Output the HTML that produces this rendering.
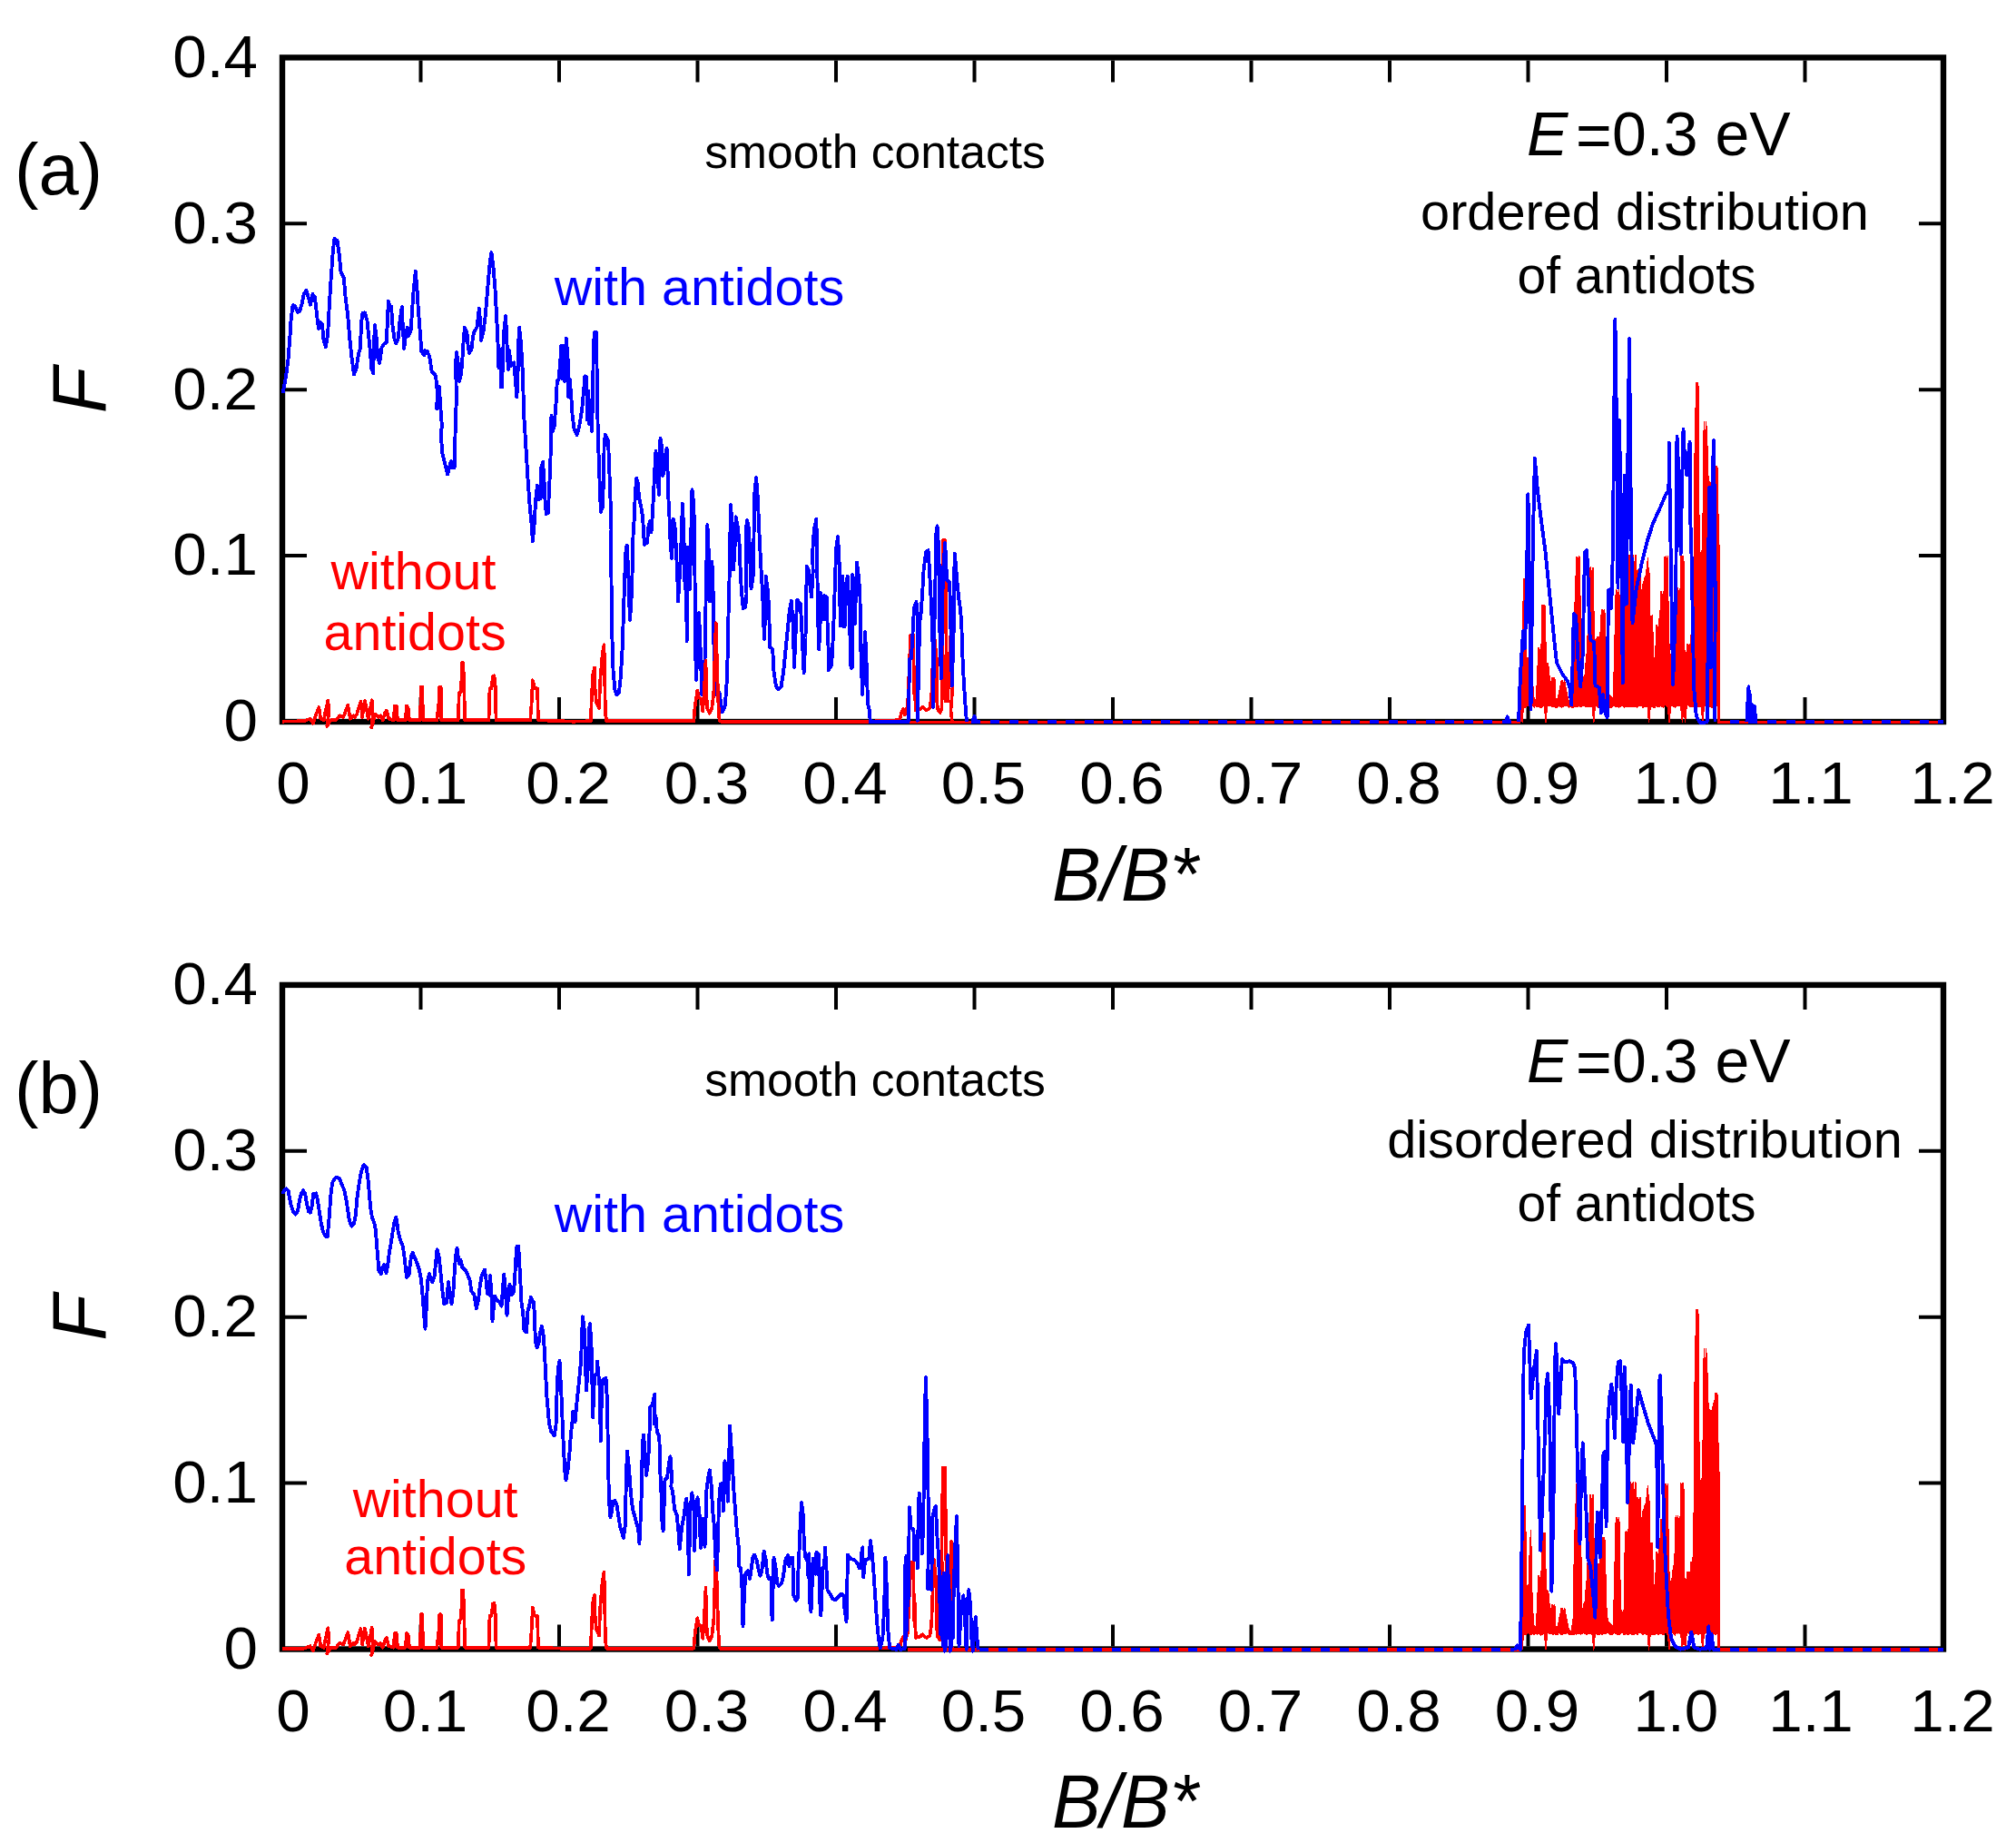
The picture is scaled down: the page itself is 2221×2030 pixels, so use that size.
<!DOCTYPE html>
<html lang="en"><head><meta charset="utf-8"><title>F vs B/B*</title>
<style>html,body{margin:0;padding:0;background:#fff}svg{display:block}text{font-family:'Liberation Sans', sans-serif}</style>
</head><body>
<svg width="2221" height="2030" viewBox="0 0 2221 2030">
<rect width="2221" height="2030" fill="#fff"/>
<g transform="translate(0,0.0)">
<rect x="311.0" y="63.4" width="1830.0" height="731.6" fill="none" stroke="#000" stroke-width="6.4"/>
<path d="M463.5 66.4v24 M463.5 792.0v-24 M616.0 66.4v24 M616.0 792.0v-24 M768.5 66.4v24 M768.5 792.0v-24 M921.0 66.4v24 M921.0 792.0v-24 M1073.5 66.4v24 M1073.5 792.0v-24 M1226.0 66.4v24 M1226.0 792.0v-24 M1378.5 66.4v24 M1378.5 792.0v-24 M1531.0 66.4v24 M1531.0 792.0v-24 M1683.5 66.4v24 M1683.5 792.0v-24 M1836.0 66.4v24 M1836.0 792.0v-24 M1988.5 66.4v24 M1988.5 792.0v-24 M314.0 612.1h24 M2138.0 612.1h-24 M314.0 429.2h24 M2138.0 429.2h-24 M314.0 246.3h24 M2138.0 246.3h-24" stroke="#000" stroke-width="4" fill="none"/>
<polyline points="1000.0,795.5 1675.0,795.5" fill="none" stroke="#f00" stroke-width="3.7" stroke-linejoin="round" shape-rendering="crispEdges"/>
<polyline points="950.0,795.0 991.2,793.1 993.1,785.0 995.0,781.2 996.9,787.5 998.8,781.2 1000.0,777.5 1001.9,732.5 1003.1,699.4 1006.0,699.4 1006.9,745.0 1007.5,770.0 1008.1,745.0 1008.8,782.5 1013.8,781.2 1016.2,778.8 1020.6,782.5 1024.4,780.0 1026.2,767.5 1028.8,696.2 1030.0,707.5 1031.9,726.2 1031.9,770.0 1033.1,781.2 1035.6,785.0 1037.5,780.0 1038.1,745.0 1037.5,681.2 1038.8,595.0 1041.2,595.0 1041.9,663.8 1042.5,707.5 1041.9,772.5 1044.4,772.5 1044.4,720.0 1045.6,757.5 1048.1,676.2 1049.4,686.2 1049.4,757.5 1047.5,782.5 1048.8,793.8 1051.2,795.6 1075.0,795.6" fill="none" stroke="#f00" stroke-width="3.7" stroke-linejoin="round" shape-rendering="crispEdges"/>
<polygon points="1677.0,726.5 1677.5,682.5 1678.3,657.7 1678.8,637.5 1679.6,637.5 1680.6,637.5 1680.9,669.9 1681.2,707.5 1682.2,732.8 1683.1,757.5 1683.5,747.1 1684.8,701.7 1685.0,695.0 1686.1,672.8 1686.5,663.8 1687.4,708.7 1688.1,745.0 1688.7,754.0 1690.0,770.0 1690.0,770.0 1691.3,770.3 1692.5,770.0 1692.6,767.8 1693.9,738.7 1695.0,713.8 1695.2,713.8 1696.5,717.0 1697.8,713.8 1698.1,713.8 1698.8,666.9 1699.1,667.3 1700.4,666.9 1701.7,671.7 1701.9,666.9 1702.5,697.5 1703.0,710.5 1703.8,730.0 1704.3,730.7 1705.6,731.2 1705.6,731.2 1706.9,745.0 1706.9,745.4 1708.2,752.1 1708.8,755.0 1709.4,746.2 1709.5,747.6 1710.8,746.2 1712.1,748.8 1712.8,746.2 1713.4,761.7 1713.8,770.0 1714.7,770.1 1716.0,770.0 1716.2,770.0 1717.3,764.7 1718.6,757.5 1719.9,752.2 1720.0,750.0 1721.2,750.0 1722.5,752.6 1723.8,750.0 1723.8,750.3 1725.1,758.3 1726.4,764.1 1727.5,770.0 1727.7,770.8 1729.0,774.2 1730.3,777.8 1730.6,778.8 1731.6,772.1 1732.9,763.3 1733.8,757.5 1734.2,696.3 1734.4,672.5 1735.5,659.5 1736.2,632.5 1736.8,615.5 1736.9,613.1 1738.1,617.9 1739.4,613.1 1740.0,613.1 1740.6,645.0 1740.7,649.9 1741.9,695.0 1742.0,707.5 1742.5,757.5 1743.3,753.8 1744.6,747.0 1745.0,745.0 1745.9,744.2 1746.2,742.5 1747.2,729.2 1748.5,716.4 1748.8,707.5 1749.8,686.5 1750.6,670.0 1751.1,657.9 1752.1,625.0 1752.4,625.0 1753.7,633.8 1755.0,625.0 1755.0,625.0 1755.6,645.0 1756.2,707.5 1756.3,711.8 1757.6,704.8 1758.1,703.8 1758.9,705.5 1760.2,701.2 1761.5,703.8 1762.8,697.9 1763.1,697.5 1764.1,678.1 1764.4,671.9 1765.4,671.9 1766.7,672.5 1767.8,671.9 1768.0,680.8 1768.8,707.5 1769.3,741.3 1769.4,745.0 1770.6,757.2 1771.2,763.8 1771.9,765.3 1773.2,765.7 1774.5,767.4 1775.8,768.3 1777.1,769.8 1777.5,770.0 1778.4,729.5 1779.7,677.2 1780.0,657.5 1780.6,650.0 1781.0,650.0 1782.3,655.8 1783.6,650.0 1783.8,650.0 1784.4,695.0 1784.9,720.9 1785.6,752.5 1786.2,752.5 1787.5,754.4 1788.8,752.5 1789.4,752.5 1790.0,688.8 1790.1,693.2 1791.2,665.0 1791.4,664.9 1792.7,666.6 1794.0,662.8 1794.4,662.5 1795.0,611.2 1795.3,620.8 1796.6,611.2 1797.9,620.0 1799.2,611.2 1800.5,625.8 1801.8,611.2 1801.9,611.2 1802.9,645.0 1803.1,651.5 1804.0,628.1 1804.4,628.1 1805.7,632.4 1806.9,628.1 1807.0,632.5 1807.5,650.0 1808.3,660.3 1809.6,643.7 1810.9,641.4 1812.2,635.9 1812.5,635.0 1813.5,634.8 1814.8,620.3 1815.6,615.0 1816.1,633.0 1816.9,631.2 1817.4,670.1 1817.5,677.5 1818.7,679.2 1820.0,678.0 1820.6,678.1 1821.2,717.5 1821.3,721.0 1822.5,732.5 1822.6,731.2 1823.9,714.1 1824.4,707.5 1825.0,688.1 1825.2,688.1 1826.5,694.1 1827.5,688.1 1827.8,684.0 1829.1,674.7 1829.4,662.5 1830.0,651.9 1830.4,651.9 1831.7,659.0 1832.5,651.9 1833.0,668.4 1833.1,672.5 1834.0,613.1 1834.3,627.5 1835.6,613.1 1836.9,618.3 1837.5,613.1 1838.1,695.0 1838.2,696.2 1839.5,722.0 1840.0,726.2 1840.8,721.3 1842.1,716.9 1843.4,705.0 1844.7,701.5 1845.0,695.0 1846.0,657.5 1846.2,648.1 1847.3,654.0 1848.6,648.1 1849.9,659.0 1851.2,648.1 1851.2,648.1 1851.9,612.5 1852.5,628.0 1853.8,612.5 1854.4,612.5 1855.0,620.0 1855.1,642.1 1855.6,716.2 1856.4,717.0 1857.7,722.2 1858.1,718.8 1858.8,710.0 1859.0,710.0 1860.3,710.4 1861.6,710.0 1862.5,710.0 1862.9,708.0 1863.1,698.8 1864.2,698.8 1865.0,698.8 1865.5,682.8 1866.2,642.5 1866.8,578.7 1866.9,570.0 1867.3,466.7 1868.1,466.1 1868.3,421.2 1869.4,421.2 1870.7,450.4 1870.8,421.2 1871.5,463.3 1872.0,606.7 1872.0,606.7 1873.3,611.5 1874.6,606.7 1875.8,606.7 1875.9,604.4 1876.5,515.0 1877.2,472.3 1877.3,464.2 1878.5,485.1 1879.7,464.2 1879.8,466.9 1880.8,488.3 1881.1,500.2 1881.7,523.3 1882.4,525.2 1883.7,539.9 1885.0,531.7 1885.0,531.7 1886.3,532.6 1887.6,525.2 1888.3,523.3 1888.9,522.9 1890.0,513.3 1890.2,513.3 1891.5,514.9 1891.7,513.3 1892.8,523.0 1892.8,523.3 1893.2,795.0 1893.4,778.7 1891.8,777.1 1890.2,779.0 1888.6,777.7 1887.0,779.1 1885.4,779.0 1883.8,777.6 1882.2,779.1 1880.6,776.9 1879.0,777.1 1877.4,777.9 1875.8,795.5 1874.2,777.7 1872.6,778.1 1871.0,778.5 1869.4,778.3 1867.8,776.6 1866.2,778.7 1864.6,778.8 1863.0,777.6 1861.4,778.3 1859.8,776.6 1858.2,776.9 1856.6,795.5 1855.0,776.9 1853.4,795.5 1851.8,779.0 1850.2,776.8 1848.6,777.4 1847.0,776.8 1845.4,779.4 1843.8,777.9 1842.2,776.7 1840.6,777.2 1839.0,795.5 1837.4,779.3 1835.8,776.8 1834.2,776.5 1832.6,779.3 1831.0,778.5 1829.4,777.5 1827.8,778.7 1826.2,778.7 1824.6,777.1 1823.0,779.4 1821.4,778.8 1819.8,778.6 1818.2,778.0 1816.6,795.5 1815.0,777.2 1813.4,778.5 1811.8,777.7 1810.2,779.4 1808.6,777.5 1807.0,777.1 1805.4,777.0 1803.8,779.1 1802.2,777.8 1800.6,778.8 1799.0,778.4 1797.4,778.7 1795.8,777.8 1794.2,778.8 1792.6,778.8 1791.0,777.6 1789.4,779.2 1787.8,776.9 1786.2,776.9 1784.6,778.8 1783.0,778.9 1781.4,778.4 1779.8,778.0 1778.2,776.4 1776.6,778.3 1775.0,779.2 1773.4,779.0 1771.8,777.0 1770.2,777.3 1768.6,778.2 1767.0,777.7 1765.4,779.1 1763.8,777.8 1762.2,779.1 1760.6,779.2 1759.0,778.0 1757.4,776.5 1755.8,795.5 1754.2,778.8 1752.6,777.8 1751.0,778.1 1749.4,778.0 1747.8,778.8 1746.2,778.1 1744.6,777.2 1743.0,777.9 1741.4,778.7 1739.8,777.7 1738.2,777.9 1736.6,778.5 1735.0,778.0 1733.4,779.2 1731.8,779.0 1730.2,777.2 1728.6,779.2 1727.0,776.8 1725.4,777.7 1723.8,777.1 1722.2,778.4 1720.6,779.1 1719.0,778.5 1717.4,776.8 1715.8,779.3 1714.2,779.3 1712.6,777.9 1711.0,778.9 1709.4,777.7 1707.8,777.4 1706.2,777.4 1704.6,776.5 1703.0,795.5 1701.4,777.4 1699.8,777.9 1698.2,779.4 1696.6,779.3 1695.0,777.2 1693.4,778.7 1691.8,776.8 1690.2,779.1 1688.6,777.2 1687.0,779.2 1685.4,778.5 1683.8,776.6 1682.2,777.7 1680.6,779.2 1679.0,778.8 1677.4,779.0" fill="#f00" stroke="#f00" stroke-width="1.3" stroke-linejoin="round" shape-rendering="crispEdges"/>
<polyline points="1676.5,795.5 1678.0,700.0" fill="none" stroke="#f00" stroke-width="3.7" stroke-linejoin="round" shape-rendering="crispEdges"/>
<polyline points="1893.0,600.0 1893.4,795.5 2141.0,795.5" fill="none" stroke="#f00" stroke-width="3.7" stroke-linejoin="round" shape-rendering="crispEdges"/>
<polyline points="1070.0,795.0 1673.0,795.0" fill="none" stroke="#00f" stroke-width="4.0" stroke-linejoin="round" shape-rendering="crispEdges" stroke-dasharray="10 10.89"/>
<polyline points="1905.6,795.0 2141.0,795.0" fill="none" stroke="#00f" stroke-width="4.0" stroke-linejoin="round" shape-rendering="crispEdges" stroke-dasharray="10 10.89"/>
<polyline points="311.5,433.1 315.0,415.0 317.5,396.2 319.4,371.2 320.6,352.5 322.5,336.2 325.0,336.9 327.8,343.8 330.0,343.1 332.8,333.8 335.0,323.1 337.5,320.0 339.4,326.2 341.9,335.6 344.4,324.0 346.9,327.5 348.8,343.8 350.0,355.0 351.0,361.9 353.1,355.0 355.0,356.9 356.2,372.5 358.8,382.5 361.2,367.5 362.5,342.5 364.0,316.2 365.6,293.8 366.9,275.0 368.5,263.1 371.5,265.0 373.8,281.2 375.6,300.0 378.8,306.2 380.6,327.5 383.1,346.2 385.0,370.0 387.5,393.8 390.0,412.5 392.5,406.2 395.0,390.0 396.9,383.8 398.1,355.0 399.4,345.0 401.9,344.4 404.4,352.5 406.2,370.0 408.1,390.0 409.4,406.2 411.2,411.2 411.9,383.8 412.9,358.1 415.0,375.0 416.2,393.8 418.1,400.0 420.6,382.5 423.1,378.8 425.6,377.5 426.9,355.0 427.8,331.9 430.0,338.8 431.0,337.5 432.5,358.8 434.4,372.5 436.2,378.1 438.8,372.5 440.6,352.5 442.8,338.1 443.8,360.0 445.2,383.8 446.9,370.0 448.8,360.6 450.0,370.0 452.5,365.0 453.8,346.2 455.6,320.0 457.8,298.8 459.4,317.5 460.6,337.5 462.5,362.5 464.4,387.5 467.5,391.2 468.1,386.2 470.6,386.9 473.1,392.5 475.6,408.8 480.0,413.8 481.9,432.5 481.2,450.0 482.8,427.5 483.8,426.2 485.6,452.5 486.9,470.0 485.6,477.5 487.5,500.0 490.0,510.0 493.1,522.5 495.0,515.0 496.9,508.1 498.5,515.0 500.6,515.0 501.2,490.0 501.9,465.0 502.8,440.0 502.2,401.2 502.8,388.1 504.4,397.5 506.2,420.0 508.1,411.2 509.4,395.0 510.6,376.2 511.9,360.6 514.4,366.2 515.6,380.0 516.9,388.8 519.4,385.0 521.2,370.0 522.5,365.6 525.6,360.0 526.9,347.5 527.8,340.0 529.4,357.5 530.0,375.0 532.5,365.0 534.4,351.2 536.2,330.0 538.1,307.5 539.8,288.8 541.5,278.1 543.8,297.5 545.6,320.0 546.9,345.0 548.1,367.5 548.8,385.0 549.4,405.0 551.0,385.0 551.9,426.2 553.1,426.2 554.0,395.0 555.0,367.5 557.1,348.1 558.1,370.0 559.0,388.8 559.8,406.9 561.0,386.2 563.1,403.1 566.2,399.4 567.5,413.8 569.4,437.5 570.6,407.5 571.2,378.8 572.1,360.6 573.8,376.2 575.0,395.0 576.0,413.8 576.5,432.5 577.2,457.5 578.1,471.2 580.0,502.5 581.9,533.8 583.8,558.8 585.6,577.5 586.9,596.2 588.8,575.0 590.0,552.5 591.9,535.0 593.8,550.0 595.6,548.8 596.2,515.0 598.1,508.8 599.4,527.5 600.6,552.5 601.9,566.2 603.8,565.0 605.0,540.0 606.2,515.0 606.9,490.0 607.5,457.5 608.8,475.0 610.6,470.0 612.5,445.0 613.8,420.0 615.6,417.5 617.5,395.0 618.1,381.2 619.4,417.5 620.6,380.6 622.2,420.0 623.8,372.5 625.6,395.0 626.2,437.5 627.8,417.5 629.4,438.8 630.6,457.5 632.5,472.5 635.6,478.8 638.1,470.0 641.2,451.2 643.1,430.0 644.4,414.4 646.2,415.0 646.9,462.5 648.1,430.6 649.4,467.5 650.6,441.2 651.9,475.0 653.1,437.5 653.8,382.5 655.0,366.2 657.2,366.2 657.5,401.2 658.1,445.0 658.8,477.5 660.0,515.0 661.2,546.2 661.9,563.8 663.8,558.8 665.0,527.5 665.6,490.0 666.9,478.8 670.0,485.0 671.2,515.0 672.5,550.0 673.5,583.8 673.0,590.0 673.5,640.0 674.4,702.5 675.6,740.0 677.5,760.0 679.4,765.0 681.9,762.5 683.8,746.2 685.6,715.0 686.9,677.5 688.1,640.0 689.4,608.8 690.6,600.6 692.2,627.5 693.1,658.8 694.0,683.1 695.6,658.8 696.9,621.2 697.5,590.0 698.8,570.0 699.8,545.0 701.2,526.9 703.1,532.5 703.8,547.5 706.2,557.5 708.1,570.0 709.4,592.5 710.0,600.0 713.1,597.5 714.4,580.0 716.2,573.8 717.5,586.2 718.8,567.5 720.0,545.0 721.2,520.0 722.5,496.9 723.8,520.0 725.0,532.5 726.0,545.0 726.9,507.5 727.5,482.5 729.4,495.0 730.2,523.8 731.9,517.5 733.1,501.2 734.6,493.8 735.6,520.0 736.2,545.0 737.5,570.0 738.1,588.8 739.4,607.5 740.0,615.0 741.0,595.0 741.9,571.9 743.8,582.5 745.0,607.5 746.2,632.5 747.1,662.5 748.1,645.0 749.4,626.2 750.6,595.0 751.9,555.0 753.1,582.5 754.0,613.8 754.6,648.8 755.6,602.5 756.2,645.0 756.6,706.2 757.5,645.0 758.8,602.5 760.0,648.8 761.2,595.0 761.9,557.5 762.5,539.4 764.4,557.5 765.0,595.0 765.6,645.0 766.2,715.0 766.9,748.8 768.8,715.0 770.0,675.0 771.2,702.5 772.5,740.0 773.1,765.0 775.6,752.5 776.9,715.0 777.5,665.0 778.5,615.0 779.4,578.1 781.2,618.8 781.9,662.5 783.1,662.5 784.4,618.8 785.6,652.5 786.2,702.5 787.5,740.0 789.4,765.0 792.5,762.5 795.6,784.4 798.8,777.5 800.6,752.5 801.9,715.0 802.5,677.5 803.8,627.5 804.4,590.0 805.0,556.2 806.9,582.5 808.1,627.5 810.0,595.0 810.6,569.4 812.5,578.8 814.4,595.0 815.6,626.2 816.9,651.2 818.8,670.0 821.2,668.8 822.5,655.0 821.9,620.0 821.9,582.5 823.1,573.1 825.0,582.5 826.2,613.8 827.5,648.1 830.0,632.5 830.6,582.5 831.2,545.0 833.1,526.2 835.0,551.2 836.2,582.5 837.5,607.5 838.8,632.5 840.0,651.2 840.6,665.0 841.9,703.8 843.1,677.5 843.8,635.0 846.2,652.5 847.5,683.8 848.1,712.5 851.2,715.0 852.5,740.0 855.0,756.2 857.5,759.4 860.6,756.2 863.1,740.0 865.6,715.0 868.1,690.0 870.0,671.2 871.9,661.9 873.8,690.0 875.0,735.0 876.9,690.0 878.1,660.6 881.9,665.0 883.8,702.5 885.6,741.2 887.5,702.5 888.1,665.0 888.8,623.8 888.8,624.4 891.2,628.8 892.5,645.0 894.0,657.5 895.6,630.0 895.2,607.5 896.9,582.5 899.4,571.9 900.0,607.5 900.6,645.0 901.2,682.5 902.2,715.6 903.8,682.5 904.4,653.1 905.9,682.5 907.2,682.5 907.8,656.2 910.6,657.5 911.2,677.5 911.9,695.0 912.8,720.0 912.8,738.1 916.2,732.5 917.5,707.5 918.8,676.2 919.4,657.5 920.0,637.5 921.2,603.8 923.1,591.2 924.8,623.8 925.4,657.5 925.6,689.4 926.9,689.4 928.1,634.4 929.6,690.0 930.6,690.0 931.5,645.0 933.8,635.0 935.6,670.0 937.5,735.6 938.8,735.6 939.0,633.1 941.0,687.5 941.9,687.5 943.1,645.0 944.0,619.4 946.0,635.0 947.5,657.5 947.8,695.0 948.8,730.0 950.2,765.0 951.5,730.0 953.1,696.2 954.8,735.0 956.0,775.0 957.8,782.5 958.8,795.0 1000.6,795.0 1001.5,757.5 1001.9,726.2 1003.8,725.0 1005.0,707.5 1006.2,682.5 1007.5,667.5 1009.5,663.1 1010.8,676.2 1011.1,732.5 1010.8,793.8 1011.9,745.0 1013.1,685.0 1014.4,678.1 1016.2,652.5 1017.5,628.8 1020.2,607.5 1022.5,606.2 1024.0,627.5 1025.0,647.5 1026.2,670.0 1027.5,707.5 1028.1,778.8 1029.4,690.0 1030.6,632.5 1031.2,588.8 1032.5,579.4 1034.4,607.5 1035.0,657.5 1035.6,707.5 1036.9,747.5 1038.1,682.5 1038.8,632.5 1041.2,598.1 1043.1,638.8 1046.2,641.2 1047.5,695.0 1048.8,755.6 1050.6,695.0 1051.2,632.5 1051.9,610.0 1054.4,640.0 1056.2,658.8 1058.1,671.2 1059.4,690.0 1060.0,713.8 1061.2,740.0 1062.5,761.2 1063.8,781.2 1065.0,794.8" fill="none" stroke="#00f" stroke-width="3.9" stroke-linejoin="round" shape-rendering="crispEdges"/>
<polyline points="1673.1,795.0 1674.4,757.5 1675.6,732.5 1678.1,695.0 1680.0,713.8 1681.9,645.0 1683.4,544.2 1685.0,645.0 1686.5,781.2 1688.1,645.0 1689.4,570.0 1690.9,505.0 1693.8,538.8 1697.5,570.0 1702.5,607.5 1707.5,657.5 1712.5,707.5 1715.0,730.0 1721.2,742.5 1726.9,750.0 1729.4,757.5 1731.2,776.2 1732.5,732.5 1733.8,676.2 1736.2,678.8 1738.8,732.5 1741.2,756.2 1743.8,720.0 1745.0,650.0 1746.2,607.5 1748.1,606.2 1750.0,645.0 1751.0,695.0 1752.5,705.0 1756.2,707.5 1757.5,755.0 1761.9,757.5 1763.8,785.0 1766.2,765.0 1767.5,782.5 1770.6,790.0 1771.2,732.5 1771.9,650.0 1774.4,648.8 1775.2,670.0 1776.9,605.0 1778.1,470.0 1779.4,352.0 1781.0,470.0 1782.5,647.5 1783.8,462.5 1785.6,545.0 1787.8,752.5 1789.0,620.0 1790.0,523.4 1791.9,665.0 1793.5,495.0 1795.0,373.0 1796.5,532.5 1798.5,686.2 1802.5,650.0 1808.8,620.0 1815.0,595.0 1821.2,576.2 1827.5,562.5 1835.0,545.0 1838.4,540.0 1838.9,488.0 1840.0,570.0 1843.1,753.8 1846.2,657.5 1847.5,480.9 1850.0,532.5 1851.6,610.0 1853.1,532.5 1854.5,473.0 1856.2,507.5 1858.4,523.4 1860.0,501.2 1861.6,487.0 1862.2,570.0 1863.8,620.0 1865.0,695.0 1866.2,757.5 1868.8,788.8 1872.5,795.6 1877.5,796.0 1880.6,795.0 1881.6,720.0 1882.2,607.5 1883.4,536.6 1884.0,620.0 1884.8,735.0 1885.8,620.0 1886.5,532.5 1888.0,485.0 1889.0,570.0 1889.8,670.0 1889.0,757.5 1889.5,795.0" fill="none" stroke="#00f" stroke-width="3.9" stroke-linejoin="round" shape-rendering="crispEdges"/>
<polyline points="1071.2,795.0 1073.5,788.8 1075.2,795.0" fill="none" stroke="#00f" stroke-width="3.9" stroke-linejoin="round" shape-rendering="crispEdges"/>
<polyline points="1658.8,795.0 1660.6,789.4 1662.5,795.0" fill="none" stroke="#00f" stroke-width="3.9" stroke-linejoin="round" shape-rendering="crispEdges"/>
<polyline points="1924.4,795.0 1925.6,770.0 1926.5,756.2 1927.2,793.8 1928.0,765.0 1929.0,793.8 1930.0,776.2 1931.2,793.8 1932.8,777.5 1934.4,795.0" fill="none" stroke="#00f" stroke-width="3.9" stroke-linejoin="round" shape-rendering="crispEdges"/>
<polyline points="310.8,794.7 335.0,794.2 341.7,791.7 345.0,796.7 348.3,786.7 351.3,779.2 353.3,791.7 356.7,793.3 358.3,785.0 361.3,771.7 362.5,783.3 360.3,800.0 364.2,793.3 370.0,793.3 374.2,788.3 378.3,790.0 380.8,783.3 383.3,776.7 385.8,791.7 389.2,788.3 390.8,790.0 393.3,786.7 395.0,780.0 397.5,772.5 399.2,790.0 400.0,783.3 402.0,772.0 404.2,783.3 405.8,791.7 407.5,783.3 409.7,771.3 410.8,786.7 409.2,801.7 413.3,786.7 416.7,790.0 419.2,788.3 421.7,793.3 424.2,785.0 425.8,782.5 428.3,791.7 433.7,793.3 434.8,777.5 436.8,777.5 438.0,793.3 446.7,793.3 448.0,777.5 449.7,780.0 451.0,793.3 463.0,793.3 463.8,756.7 465.3,756.7 466.0,793.3 481.3,793.3 483.3,776.7 484.3,756.7 485.7,756.7 486.3,793.3 504.7,793.3 505.8,763.3 508.0,761.7 509.0,730.0 510.3,730.0 511.3,756.7 512.2,793.3 538.5,793.3 539.5,758.3 541.5,758.3 543.0,745.0 544.5,744.2 545.8,756.7 546.5,793.3 584.2,793.3 585.7,773.3 586.8,749.2 589.2,758.3 592.0,758.3 593.0,793.3 631.7,794.7 650.8,794.2 652.0,765.0 653.2,743.3 655.0,735.3 655.5,756.7 657.0,773.3 660.0,780.0 661.3,748.3 663.7,720.0 665.5,710.3 666.2,748.3 667.0,786.7 668.3,794.2 764.2,794.2 765.8,776.7 768.3,760.8 770.0,768.3 772.5,770.0 774.2,783.3 775.8,761.7 777.5,727.5 778.3,765.0 779.2,780.0 781.7,785.8 784.2,780.8 786.3,763.3 787.5,723.3 788.7,686.3 790.0,731.7 791.3,773.3 792.5,793.3 794.2,794.7 955.0,794.7" fill="none" stroke="#f00" stroke-width="3.7" stroke-linejoin="round" shape-rendering="crispEdges"/>
<text transform="translate(284,816.3) scale(1.045,1)" text-anchor="end" font-size="64.5">0</text>
<text transform="translate(284,633.4) scale(1.045,1)" text-anchor="end" font-size="64.5">0.1</text>
<text transform="translate(284,450.5) scale(1.045,1)" text-anchor="end" font-size="64.5">0.2</text>
<text transform="translate(284,267.6) scale(1.045,1)" text-anchor="end" font-size="64.5">0.3</text>
<text transform="translate(284,84.7) scale(1.045,1)" text-anchor="end" font-size="64.5">0.4</text>
<text transform="translate(323.0,885.3) scale(1.045,1)" text-anchor="middle" font-size="64.5">0</text>
<text transform="translate(468.5,885.3) scale(1.045,1)" text-anchor="middle" font-size="64.5">0.1</text>
<text transform="translate(626.0,885.3) scale(1.045,1)" text-anchor="middle" font-size="64.5">0.2</text>
<text transform="translate(778.5,885.3) scale(1.045,1)" text-anchor="middle" font-size="64.5">0.3</text>
<text transform="translate(931.0,885.3) scale(1.045,1)" text-anchor="middle" font-size="64.5">0.4</text>
<text transform="translate(1083.5,885.3) scale(1.045,1)" text-anchor="middle" font-size="64.5">0.5</text>
<text transform="translate(1236.0,885.3) scale(1.045,1)" text-anchor="middle" font-size="64.5">0.6</text>
<text transform="translate(1388.5,885.3) scale(1.045,1)" text-anchor="middle" font-size="64.5">0.7</text>
<text transform="translate(1541.0,885.3) scale(1.045,1)" text-anchor="middle" font-size="64.5">0.8</text>
<text transform="translate(1693.5,885.3) scale(1.045,1)" text-anchor="middle" font-size="64.5">0.9</text>
<text transform="translate(1846.3,885.3) scale(1.045,1)" text-anchor="middle" font-size="64.5">1.0</text>
<text transform="translate(1995.0,885.3) scale(1.045,1)" text-anchor="middle" font-size="64.5">1.1</text>
<text transform="translate(2151.0,885.3) scale(1.045,1)" text-anchor="middle" font-size="64.5">1.2</text>
<text transform="translate(1239.5,991.5) scale(0.97,1)" text-anchor="middle" font-size="83" font-style="italic">B/B*</text>
<text transform="translate(116,430) rotate(-90)" text-anchor="middle" font-size="83" font-style="italic">F</text>
<text x="64.5" y="213.5" text-anchor="middle" font-size="79.5">(a)</text>
<text x="964" y="185" text-anchor="middle" font-size="51.6">smooth contacts</text>
<text x="770.5" y="335.5" text-anchor="middle" font-size="57.5" fill="#00f">with antidots</text>
<text x="455.5" y="648.6" text-anchor="middle" font-size="57.4" fill="#f00">without</text>
<text x="457.1" y="715.6" text-anchor="middle" font-size="57.4" fill="#f00">antidots</text>
<text x="1683" y="170.5" font-size="68"><tspan font-style="italic" x="1682">E</tspan><tspan x="1736" dy="2">=</tspan><tspan x="1776" dy="-2">0.3 eV</tspan></text>
<text x="1812.0" y="253" text-anchor="middle" font-size="57.7">ordered distribution</text>
<text x="1803" y="323" text-anchor="middle" font-size="57">of antidots</text>
</g>
<g transform="translate(0,1021.5)">
<rect x="311.0" y="63.4" width="1830.0" height="731.6" fill="none" stroke="#000" stroke-width="6.4"/>
<path d="M463.5 66.4v24 M463.5 792.0v-24 M616.0 66.4v24 M616.0 792.0v-24 M768.5 66.4v24 M768.5 792.0v-24 M921.0 66.4v24 M921.0 792.0v-24 M1073.5 66.4v24 M1073.5 792.0v-24 M1226.0 66.4v24 M1226.0 792.0v-24 M1378.5 66.4v24 M1378.5 792.0v-24 M1531.0 66.4v24 M1531.0 792.0v-24 M1683.5 66.4v24 M1683.5 792.0v-24 M1836.0 66.4v24 M1836.0 792.0v-24 M1988.5 66.4v24 M1988.5 792.0v-24 M314.0 612.1h24 M2138.0 612.1h-24 M314.0 429.2h24 M2138.0 429.2h-24 M314.0 246.3h24 M2138.0 246.3h-24" stroke="#000" stroke-width="4" fill="none"/>
<polyline points="1000.0,795.5 1675.0,795.5" fill="none" stroke="#f00" stroke-width="3.7" stroke-linejoin="round" shape-rendering="crispEdges"/>
<polyline points="950.0,795.0 991.2,793.1 993.1,785.0 995.0,781.2 996.9,787.5 998.8,781.2 1000.0,777.5 1001.9,732.5 1003.1,699.4 1006.0,699.4 1006.9,745.0 1007.5,770.0 1008.1,745.0 1008.8,782.5 1013.8,781.2 1016.2,778.8 1020.6,782.5 1024.4,780.0 1026.2,767.5 1028.8,696.2 1030.0,707.5 1031.9,726.2 1031.9,770.0 1033.1,781.2 1035.6,785.0 1037.5,780.0 1038.1,745.0 1037.5,681.2 1038.8,595.0 1041.2,595.0 1041.9,663.8 1042.5,707.5 1041.9,772.5 1044.4,772.5 1044.4,720.0 1045.6,757.5 1048.1,676.2 1049.4,686.2 1049.4,757.5 1047.5,782.5 1048.8,793.8 1051.2,795.6 1075.0,795.6" fill="none" stroke="#f00" stroke-width="3.7" stroke-linejoin="round" shape-rendering="crispEdges"/>
<polygon points="1677.0,726.5 1677.5,682.5 1678.3,657.7 1678.8,637.5 1679.6,637.5 1680.6,637.5 1680.9,669.9 1681.2,707.5 1682.2,732.8 1683.1,757.5 1683.5,747.1 1684.8,701.7 1685.0,695.0 1686.1,672.8 1686.5,663.8 1687.4,708.7 1688.1,745.0 1688.7,754.0 1690.0,770.0 1690.0,770.0 1691.3,770.3 1692.5,770.0 1692.6,767.8 1693.9,738.7 1695.0,713.8 1695.2,713.8 1696.5,717.0 1697.8,713.8 1698.1,713.8 1698.8,666.9 1699.1,667.3 1700.4,666.9 1701.7,671.7 1701.9,666.9 1702.5,697.5 1703.0,710.5 1703.8,730.0 1704.3,730.7 1705.6,731.2 1705.6,731.2 1706.9,745.0 1706.9,745.4 1708.2,752.1 1708.8,755.0 1709.4,746.2 1709.5,747.6 1710.8,746.2 1712.1,748.8 1712.8,746.2 1713.4,761.7 1713.8,770.0 1714.7,770.1 1716.0,770.0 1716.2,770.0 1717.3,764.7 1718.6,757.5 1719.9,752.2 1720.0,750.0 1721.2,750.0 1722.5,752.6 1723.8,750.0 1723.8,750.3 1725.1,758.3 1726.4,764.1 1727.5,770.0 1727.7,770.8 1729.0,774.2 1730.3,777.8 1730.6,778.8 1731.6,772.1 1732.9,763.3 1733.8,757.5 1734.2,696.3 1734.4,672.5 1735.5,659.5 1736.2,632.5 1736.8,615.5 1736.9,613.1 1738.1,617.9 1739.4,613.1 1740.0,613.1 1740.6,645.0 1740.7,649.9 1741.9,695.0 1742.0,707.5 1742.5,757.5 1743.3,753.8 1744.6,747.0 1745.0,745.0 1745.9,744.2 1746.2,742.5 1747.2,729.2 1748.5,716.4 1748.8,707.5 1749.8,686.5 1750.6,670.0 1751.1,657.9 1752.1,625.0 1752.4,625.0 1753.7,633.8 1755.0,625.0 1755.0,625.0 1755.6,645.0 1756.2,707.5 1756.3,711.8 1757.6,704.8 1758.1,703.8 1758.9,705.5 1760.2,701.2 1761.5,703.8 1762.8,697.9 1763.1,697.5 1764.1,678.1 1764.4,671.9 1765.4,671.9 1766.7,672.5 1767.8,671.9 1768.0,680.8 1768.8,707.5 1769.3,741.3 1769.4,745.0 1770.6,757.2 1771.2,763.8 1771.9,765.3 1773.2,765.7 1774.5,767.4 1775.8,768.3 1777.1,769.8 1777.5,770.0 1778.4,729.5 1779.7,677.2 1780.0,657.5 1780.6,650.0 1781.0,650.0 1782.3,655.8 1783.6,650.0 1783.8,650.0 1784.4,695.0 1784.9,720.9 1785.6,752.5 1786.2,752.5 1787.5,754.4 1788.8,752.5 1789.4,752.5 1790.0,688.8 1790.1,693.2 1791.2,665.0 1791.4,664.9 1792.7,666.6 1794.0,662.8 1794.4,662.5 1795.0,611.2 1795.3,620.8 1796.6,611.2 1797.9,620.0 1799.2,611.2 1800.5,625.8 1801.8,611.2 1801.9,611.2 1802.9,645.0 1803.1,651.5 1804.0,628.1 1804.4,628.1 1805.7,632.4 1806.9,628.1 1807.0,632.5 1807.5,650.0 1808.3,660.3 1809.6,643.7 1810.9,641.4 1812.2,635.9 1812.5,635.0 1813.5,634.8 1814.8,620.3 1815.6,615.0 1816.1,633.0 1816.9,631.2 1817.4,670.1 1817.5,677.5 1818.7,679.2 1820.0,678.0 1820.6,678.1 1821.2,717.5 1821.3,721.0 1822.5,732.5 1822.6,731.2 1823.9,714.1 1824.4,707.5 1825.0,688.1 1825.2,688.1 1826.5,694.1 1827.5,688.1 1827.8,684.0 1829.1,674.7 1829.4,662.5 1830.0,651.9 1830.4,651.9 1831.7,659.0 1832.5,651.9 1833.0,668.4 1833.1,672.5 1834.0,613.1 1834.3,627.5 1835.6,613.1 1836.9,618.3 1837.5,613.1 1838.1,695.0 1838.2,696.2 1839.5,722.0 1840.0,726.2 1840.8,721.3 1842.1,716.9 1843.4,705.0 1844.7,701.5 1845.0,695.0 1846.0,657.5 1846.2,648.1 1847.3,654.0 1848.6,648.1 1849.9,659.0 1851.2,648.1 1851.2,648.1 1851.9,612.5 1852.5,628.0 1853.8,612.5 1854.4,612.5 1855.0,620.0 1855.1,642.1 1855.6,716.2 1856.4,717.0 1857.7,722.2 1858.1,718.8 1858.8,710.0 1859.0,710.0 1860.3,710.4 1861.6,710.0 1862.5,710.0 1862.9,708.0 1863.1,698.8 1864.2,698.8 1865.0,698.8 1865.5,682.8 1866.2,642.5 1866.8,578.7 1866.9,570.0 1867.3,466.7 1868.1,466.1 1868.3,421.2 1869.4,421.2 1870.7,450.4 1870.8,421.2 1871.5,463.3 1872.0,606.7 1872.0,606.7 1873.3,611.5 1874.6,606.7 1875.8,606.7 1875.9,604.4 1876.5,515.0 1877.2,472.3 1877.3,464.2 1878.5,485.1 1879.7,464.2 1879.8,466.9 1880.8,488.3 1881.1,500.2 1881.7,523.3 1882.4,525.2 1883.7,539.9 1885.0,531.7 1885.0,531.7 1886.3,532.6 1887.6,525.2 1888.3,523.3 1888.9,522.9 1890.0,513.3 1890.2,513.3 1891.5,514.9 1891.7,513.3 1892.8,523.0 1892.8,523.3 1893.2,795.0 1893.4,778.7 1891.8,777.1 1890.2,779.0 1888.6,777.7 1887.0,779.1 1885.4,779.0 1883.8,777.6 1882.2,779.1 1880.6,776.9 1879.0,777.1 1877.4,777.9 1875.8,795.5 1874.2,777.7 1872.6,778.1 1871.0,778.5 1869.4,778.3 1867.8,776.6 1866.2,778.7 1864.6,778.8 1863.0,777.6 1861.4,778.3 1859.8,776.6 1858.2,776.9 1856.6,795.5 1855.0,776.9 1853.4,795.5 1851.8,779.0 1850.2,776.8 1848.6,777.4 1847.0,776.8 1845.4,779.4 1843.8,777.9 1842.2,776.7 1840.6,777.2 1839.0,795.5 1837.4,779.3 1835.8,776.8 1834.2,776.5 1832.6,779.3 1831.0,778.5 1829.4,777.5 1827.8,778.7 1826.2,778.7 1824.6,777.1 1823.0,779.4 1821.4,778.8 1819.8,778.6 1818.2,778.0 1816.6,795.5 1815.0,777.2 1813.4,778.5 1811.8,777.7 1810.2,779.4 1808.6,777.5 1807.0,777.1 1805.4,777.0 1803.8,779.1 1802.2,777.8 1800.6,778.8 1799.0,778.4 1797.4,778.7 1795.8,777.8 1794.2,778.8 1792.6,778.8 1791.0,777.6 1789.4,779.2 1787.8,776.9 1786.2,776.9 1784.6,778.8 1783.0,778.9 1781.4,778.4 1779.8,778.0 1778.2,776.4 1776.6,778.3 1775.0,779.2 1773.4,779.0 1771.8,777.0 1770.2,777.3 1768.6,778.2 1767.0,777.7 1765.4,779.1 1763.8,777.8 1762.2,779.1 1760.6,779.2 1759.0,778.0 1757.4,776.5 1755.8,795.5 1754.2,778.8 1752.6,777.8 1751.0,778.1 1749.4,778.0 1747.8,778.8 1746.2,778.1 1744.6,777.2 1743.0,777.9 1741.4,778.7 1739.8,777.7 1738.2,777.9 1736.6,778.5 1735.0,778.0 1733.4,779.2 1731.8,779.0 1730.2,777.2 1728.6,779.2 1727.0,776.8 1725.4,777.7 1723.8,777.1 1722.2,778.4 1720.6,779.1 1719.0,778.5 1717.4,776.8 1715.8,779.3 1714.2,779.3 1712.6,777.9 1711.0,778.9 1709.4,777.7 1707.8,777.4 1706.2,777.4 1704.6,776.5 1703.0,795.5 1701.4,777.4 1699.8,777.9 1698.2,779.4 1696.6,779.3 1695.0,777.2 1693.4,778.7 1691.8,776.8 1690.2,779.1 1688.6,777.2 1687.0,779.2 1685.4,778.5 1683.8,776.6 1682.2,777.7 1680.6,779.2 1679.0,778.8 1677.4,779.0" fill="#f00" stroke="#f00" stroke-width="1.3" stroke-linejoin="round" shape-rendering="crispEdges"/>
<polyline points="1676.5,795.5 1678.0,700.0" fill="none" stroke="#f00" stroke-width="3.7" stroke-linejoin="round" shape-rendering="crispEdges"/>
<polyline points="1893.0,600.0 1893.4,795.5 2141.0,795.5" fill="none" stroke="#f00" stroke-width="3.7" stroke-linejoin="round" shape-rendering="crispEdges"/>
<polyline points="310.8,794.7 335.0,794.2 341.7,791.7 345.0,796.7 348.3,786.7 351.3,779.2 353.3,791.7 356.7,793.3 358.3,785.0 361.3,771.7 362.5,783.3 360.3,800.0 364.2,793.3 370.0,793.3 374.2,788.3 378.3,790.0 380.8,783.3 383.3,776.7 385.8,791.7 389.2,788.3 390.8,790.0 393.3,786.7 395.0,780.0 397.5,772.5 399.2,790.0 400.0,783.3 402.0,772.0 404.2,783.3 405.8,791.7 407.5,783.3 409.7,771.3 410.8,786.7 409.2,801.7 413.3,786.7 416.7,790.0 419.2,788.3 421.7,793.3 424.2,785.0 425.8,782.5 428.3,791.7 433.7,793.3 434.8,777.5 436.8,777.5 438.0,793.3 446.7,793.3 448.0,777.5 449.7,780.0 451.0,793.3 463.0,793.3 463.8,756.7 465.3,756.7 466.0,793.3 481.3,793.3 483.3,776.7 484.3,756.7 485.7,756.7 486.3,793.3 504.7,793.3 505.8,763.3 508.0,761.7 509.0,730.0 510.3,730.0 511.3,756.7 512.2,793.3 538.5,793.3 539.5,758.3 541.5,758.3 543.0,745.0 544.5,744.2 545.8,756.7 546.5,793.3 584.2,793.3 585.7,773.3 586.8,749.2 589.2,758.3 592.0,758.3 593.0,793.3 631.7,794.7 650.8,794.2 652.0,765.0 653.2,743.3 655.0,735.3 655.5,756.7 657.0,773.3 660.0,780.0 661.3,748.3 663.7,720.0 665.5,710.3 666.2,748.3 667.0,786.7 668.3,794.2 764.2,794.2 765.8,776.7 768.3,760.8 770.0,768.3 772.5,770.0 774.2,783.3 775.8,761.7 777.5,727.5 778.3,765.0 779.2,780.0 781.7,785.8 784.2,780.8 786.3,763.3 787.5,723.3 788.7,686.3 790.0,731.7 791.3,773.3 792.5,793.3 794.2,794.7 955.0,794.7" fill="none" stroke="#f00" stroke-width="3.7" stroke-linejoin="round" shape-rendering="crispEdges"/>
<polyline points="1079.0,795.0 1668.0,795.0" fill="none" stroke="#00f" stroke-width="4.0" stroke-linejoin="round" shape-rendering="crispEdges" stroke-dasharray="10 10.89"/>
<polyline points="1905.6,795.0 2141.0,795.0" fill="none" stroke="#00f" stroke-width="4.0" stroke-linejoin="round" shape-rendering="crispEdges" stroke-dasharray="10 10.89"/>
<polyline points="311.5,293.5 313.1,289.8 315.2,287.9 317.5,289.8 318.8,297.2 320.6,306.0 323.1,313.5 325.6,316.0 328.1,312.2 330.0,301.0 331.9,293.5 334.0,289.8 336.2,293.5 338.1,304.8 340.0,312.9 341.9,314.1 343.8,306.0 345.2,293.5 348.1,292.9 350.0,301.0 351.9,313.5 353.8,326.0 356.2,336.0 358.8,340.4 360.6,341.0 361.9,328.5 363.1,313.5 364.4,294.8 366.2,281.0 369.4,276.0 371.9,275.4 373.8,276.6 376.2,282.2 379.4,289.8 381.2,298.5 383.1,311.0 385.0,323.5 387.5,329.1 390.0,326.0 391.9,317.2 393.1,301.0 395.0,286.0 397.5,271.0 400.0,262.9 401.2,261.6 403.8,264.8 405.6,278.5 406.9,293.5 408.1,308.5 410.0,319.8 412.5,326.0 413.8,333.5 415.0,348.5 416.2,363.5 417.5,378.5 419.8,381.6 421.2,374.8 423.1,371.6 425.6,380.4 427.5,369.8 428.8,358.5 430.6,348.5 432.5,336.0 434.4,324.8 436.2,319.1 437.5,326.0 438.8,336.0 441.2,344.8 443.8,351.0 445.6,363.5 446.9,376.0 448.1,385.4 450.6,382.2 451.9,369.8 453.1,362.2 454.6,358.5 456.9,363.5 459.4,369.8 461.9,377.2 463.8,387.2 465.0,398.5 466.2,413.5 467.5,431.0 468.5,442.2 469.4,426.0 470.2,407.2 471.2,388.5 473.1,381.6 475.0,388.5 476.5,390.4 478.8,383.5 480.0,369.8 481.5,354.8 483.8,363.5 485.0,376.0 486.2,388.5 487.5,401.0 489.4,414.8 491.9,413.5 493.1,401.0 494.0,390.4 495.6,404.8 497.5,414.8 499.4,401.0 500.6,382.2 501.9,363.5 503.5,353.5 505.0,364.8 506.2,371.0 507.5,366.0 509.4,374.8 512.5,377.2 515.0,382.2 517.5,388.5 519.4,401.0 522.5,404.8 524.8,419.8 526.9,411.0 528.8,394.8 530.6,383.5 534.0,377.2 535.6,388.5 536.9,403.5 539.4,404.8 540.0,383.5 541.2,401.0 542.5,433.5 543.8,418.5 545.0,406.0 547.5,411.0 550.0,412.2 552.5,417.2 553.8,399.8 555.2,382.2 556.9,399.8 558.5,427.2 560.0,406.0 561.5,393.5 563.1,404.8 565.6,402.2 566.9,391.0 568.1,368.5 569.4,351.6 571.2,351.0 572.5,374.8 573.5,393.5 574.4,412.2 576.2,424.8 577.5,443.5 580.2,446.0 581.2,423.5 583.1,417.2 584.8,407.2 588.1,413.5 588.8,426.0 589.4,443.5 590.0,456.0 591.5,462.9 593.8,456.0 595.0,446.0 596.9,439.1 598.8,449.8 600.0,468.5 601.2,493.5 602.5,518.5 603.5,528.5 604.8,544.8 606.9,554.8 610.6,559.8 612.5,548.5 613.1,528.5 613.8,503.5 615.0,484.8 616.5,477.2 617.5,497.2 618.8,522.2 620.0,553.5 621.2,578.5 622.5,601.0 623.5,608.5 625.6,597.2 627.5,578.5 628.8,559.8 630.6,543.5 631.2,533.5 633.5,544.8 635.0,528.5 636.9,509.8 638.8,491.0 640.0,478.5 641.0,453.5 641.9,428.8 643.8,443.5 645.0,481.0 646.0,509.8 648.1,481.0 648.8,443.5 650.0,436.6 651.9,468.5 652.5,506.0 653.1,539.8 655.0,493.5 657.5,491.6 658.1,477.9 660.6,506.0 661.2,536.0 661.9,566.0 662.5,531.0 663.8,498.5 667.5,496.6 668.8,518.5 669.4,548.5 670.0,584.8 670.6,616.0 671.2,634.8 672.5,649.8 674.4,641.0 675.0,632.2 677.5,631.6 679.4,636.0 681.2,647.2 683.1,659.8 685.0,666.0 686.9,672.2 688.8,658.5 689.4,628.5 690.0,603.5 690.6,587.2 691.0,577.2 693.1,597.2 694.4,616.0 695.6,628.5 696.9,639.8 698.8,647.2 701.2,656.0 703.1,662.2 704.4,678.5 706.2,641.0 706.9,616.0 707.5,584.8 708.1,566.0 709.0,559.1 710.6,578.5 711.9,603.5 713.8,591.0 715.0,572.2 715.6,553.5 716.2,528.5 718.8,525.4 721.2,514.1 721.0,547.2 722.5,538.5 723.8,556.0 726.2,559.8 726.9,578.5 727.5,603.5 728.8,628.5 729.4,653.5 730.6,664.8 731.9,628.5 732.5,608.5 735.0,606.0 736.9,591.0 738.5,582.9 740.0,603.5 739.4,616.0 741.2,622.2 743.1,641.0 745.6,647.2 747.5,666.0 748.8,684.8 751.2,659.8 753.8,647.2 755.0,634.8 756.2,629.1 757.8,647.2 758.8,712.9 760.6,641.0 762.2,622.9 764.4,634.8 765.0,686.6 766.9,641.0 768.5,627.9 770.6,647.2 771.9,683.5 773.5,658.5 774.8,651.0 776.5,682.2 777.5,653.5 778.1,622.2 780.0,607.2 781.9,597.9 783.8,616.0 785.0,641.0 786.9,659.8 788.1,691.0 790.0,707.9 791.2,666.0 791.9,634.8 793.8,612.9 795.6,612.9 796.9,642.9 797.8,603.5 798.5,587.9 800.0,597.2 801.9,632.2 803.1,591.0 804.0,548.9 806.9,591.0 808.1,616.0 810.0,641.0 811.9,666.0 813.8,682.9 814.0,703.5 816.2,706.0 817.5,728.5 818.5,769.8 820.0,734.8 821.2,712.2 823.8,708.5 826.2,717.2 828.1,703.5 829.4,693.5 831.0,691.0 833.8,697.2 835.6,707.2 837.5,714.1 839.4,708.5 840.6,697.2 841.6,687.2 843.8,697.2 845.0,711.0 846.9,717.2 849.4,716.6 850.0,741.0 850.6,762.9 851.9,716.0 852.5,694.1 854.4,703.5 856.2,722.2 858.1,725.4 861.2,722.2 863.1,713.5 864.4,703.5 865.6,696.0 868.1,691.6 869.4,703.5 870.6,694.1 873.1,694.1 873.8,711.0 874.4,736.0 876.9,741.6 878.8,738.5 879.4,709.8 880.6,684.8 881.9,653.5 883.0,633.5 885.0,648.5 885.6,672.2 886.9,693.5 889.4,697.2 890.6,716.0 891.2,689.8 891.9,741.0 893.5,753.5 895.0,716.0 895.6,695.4 898.1,694.8 898.5,712.2 899.4,688.5 901.9,691.0 902.5,716.0 903.1,741.0 904.4,757.9 905.6,728.5 906.2,704.8 908.1,704.8 909.0,682.9 911.0,716.0 911.5,729.8 915.0,734.8 917.5,739.8 920.0,741.0 923.8,737.2 926.9,734.1 929.4,736.0 930.0,747.2 932.5,764.8 933.1,741.0 933.5,716.0 934.0,691.0 936.9,695.4 941.2,696.6 945.0,701.0 946.9,706.0 948.5,703.5 949.0,691.0 950.2,682.9 951.2,716.0 953.1,697.2 957.5,694.8 958.1,684.8 959.0,675.8 960.7,689.8 962.5,711.3 964.3,738.1 966.1,765.0 967.9,782.9 969.7,793.6 972.4,782.9 974.2,747.1 975.4,694.1 976.9,729.2 978.3,773.9 980.1,793.6 987.6,795.4 989.8,790.1 992.1,795.4 996.6,794.5 996.9,747.1 997.3,702.3 997.8,782.9 998.3,692.5 999.1,773.9 999.8,691.6 1000.5,747.1 1001.2,689.8 1001.9,638.8 1003.7,662.0 1006.4,662.9 1007.3,696.9 1009.1,675.5 1010.9,705.9 1011.8,639.7 1012.7,623.5 1014.8,648.6 1015.9,689.8 1017.1,657.6 1018.0,603.8 1018.9,532.2 1020.0,495.5 1021.6,564.4 1022.5,621.7 1023.1,675.5 1022.0,728.3 1026.1,729.2 1027.0,675.5 1026.6,652.2 1029.7,639.7 1030.9,637.5 1032.7,675.5 1034.2,693.4 1035.1,729.2 1036.3,779.3 1037.0,720.2 1037.7,782.9 1038.5,714.9 1039.2,791.8 1039.9,711.3 1040.6,797.2 1041.3,729.2 1042.0,791.8 1042.8,711.3 1043.5,782.9 1044.4,691.6 1045.1,782.9 1045.8,729.2 1046.7,797.2 1047.4,747.1 1048.1,791.8 1048.8,756.0 1049.6,782.9 1050.3,747.1 1052.1,684.4 1054.0,648.6 1055.6,734.5 1056.5,791.8 1059.2,747.1 1061.4,735.8 1063.2,765.0 1064.6,795.4 1065.5,747.1 1067.3,729.7 1069.1,747.1 1070.3,782.9 1071.8,797.2 1073.5,773.9 1074.8,759.6 1077.1,791.8 1078.0,795.8" fill="none" stroke="#00f" stroke-width="3.9" stroke-linejoin="round" shape-rendering="crispEdges"/>
<polyline points="1667.5,795.2 1669.6,794.7 1671.7,790.9 1674.9,795.2 1676.0,735.9 1677.0,630.1 1678.1,524.3 1678.7,469.3 1681.3,445.0 1684.0,438.0 1685.5,482.0 1686.6,519.0 1689.7,488.3 1692.9,466.1 1694.0,524.3 1695.0,587.8 1696.1,630.1 1697.1,686.2 1700.3,609.0 1702.4,545.5 1703.5,503.1 1705.2,491.5 1707.3,545.5 1708.1,609.0 1709.4,731.3 1711.5,630.1 1712.4,545.5 1713.0,482.0 1714.1,458.7 1716.2,503.1 1717.2,535.9 1719.4,503.1 1720.8,475.6 1724.6,478.8 1728.9,477.8 1733.1,479.9 1735.2,486.2 1736.3,524.3 1737.3,566.6 1738.4,609.0 1739.5,651.3 1740.5,678.8 1742.0,609.0 1743.7,567.7 1745.8,609.0 1747.9,651.3 1749.0,693.6 1752.2,704.2 1755.3,735.9 1757.4,760.3 1758.5,693.6 1759.8,643.9 1761.7,672.4 1762.7,693.6 1764.9,630.1 1766.5,579.3 1769.1,577.2 1769.5,659.7 1771.2,545.5 1773.3,516.9 1775.4,503.1 1779.0,562.4 1780.7,503.1 1782.8,478.8 1785.0,477.8 1787.1,524.3 1788.3,566.6 1789.8,484.1 1791.3,524.3 1793.2,633.3 1795.5,545.5 1796.6,504.2 1799.1,567.7 1801.9,545.5 1805.1,509.5 1809.3,524.3 1815.6,545.5 1822.0,562.4 1825.2,570.9 1825.8,630.1 1826.2,683.0 1827.3,587.8 1827.9,503.1 1828.8,493.6 1830.5,545.5 1831.5,587.8 1832.6,630.1 1833.6,672.4 1835.7,714.8 1837.9,757.1 1841.0,782.5 1845.3,792.0 1851.6,795.2 1860.1,793.1 1863.3,776.1 1866.4,793.1 1872.8,795.2 1880.2,794.1 1882.3,769.8 1883.8,795.2 1885.5,778.2 1887.6,795.2 1895.0,795.2" fill="none" stroke="#00f" stroke-width="3.9" stroke-linejoin="round" shape-rendering="crispEdges"/>
<text transform="translate(284,816.3) scale(1.045,1)" text-anchor="end" font-size="64.5">0</text>
<text transform="translate(284,633.4) scale(1.045,1)" text-anchor="end" font-size="64.5">0.1</text>
<text transform="translate(284,450.5) scale(1.045,1)" text-anchor="end" font-size="64.5">0.2</text>
<text transform="translate(284,267.6) scale(1.045,1)" text-anchor="end" font-size="64.5">0.3</text>
<text transform="translate(284,84.7) scale(1.045,1)" text-anchor="end" font-size="64.5">0.4</text>
<text transform="translate(323.0,885.3) scale(1.045,1)" text-anchor="middle" font-size="64.5">0</text>
<text transform="translate(468.5,885.3) scale(1.045,1)" text-anchor="middle" font-size="64.5">0.1</text>
<text transform="translate(626.0,885.3) scale(1.045,1)" text-anchor="middle" font-size="64.5">0.2</text>
<text transform="translate(778.5,885.3) scale(1.045,1)" text-anchor="middle" font-size="64.5">0.3</text>
<text transform="translate(931.0,885.3) scale(1.045,1)" text-anchor="middle" font-size="64.5">0.4</text>
<text transform="translate(1083.5,885.3) scale(1.045,1)" text-anchor="middle" font-size="64.5">0.5</text>
<text transform="translate(1236.0,885.3) scale(1.045,1)" text-anchor="middle" font-size="64.5">0.6</text>
<text transform="translate(1388.5,885.3) scale(1.045,1)" text-anchor="middle" font-size="64.5">0.7</text>
<text transform="translate(1541.0,885.3) scale(1.045,1)" text-anchor="middle" font-size="64.5">0.8</text>
<text transform="translate(1693.5,885.3) scale(1.045,1)" text-anchor="middle" font-size="64.5">0.9</text>
<text transform="translate(1846.3,885.3) scale(1.045,1)" text-anchor="middle" font-size="64.5">1.0</text>
<text transform="translate(1995.0,885.3) scale(1.045,1)" text-anchor="middle" font-size="64.5">1.1</text>
<text transform="translate(2151.0,885.3) scale(1.045,1)" text-anchor="middle" font-size="64.5">1.2</text>
<text transform="translate(1239.5,991.5) scale(0.97,1)" text-anchor="middle" font-size="83" font-style="italic">B/B*</text>
<text transform="translate(116,430) rotate(-90)" text-anchor="middle" font-size="83" font-style="italic">F</text>
<text x="64.5" y="204.5" text-anchor="middle" font-size="79.5">(b)</text>
<text x="964" y="185" text-anchor="middle" font-size="51.6">smooth contacts</text>
<text x="770.5" y="335.5" text-anchor="middle" font-size="57.5" fill="#00f">with antidots</text>
<text x="479.6" y="649.7" text-anchor="middle" font-size="57.4" fill="#f00">without</text>
<text x="479.8" y="712.9" text-anchor="middle" font-size="57.4" fill="#f00">antidots</text>
<text x="1683" y="170.5" font-size="68"><tspan font-style="italic" x="1682">E</tspan><tspan x="1736" dy="2">=</tspan><tspan x="1776" dy="-2">0.3 eV</tspan></text>
<text x="1812.0" y="253" text-anchor="middle" font-size="57.7">disordered distribution</text>
<text x="1803" y="323" text-anchor="middle" font-size="57">of antidots</text>
</g>
</svg></body></html>
